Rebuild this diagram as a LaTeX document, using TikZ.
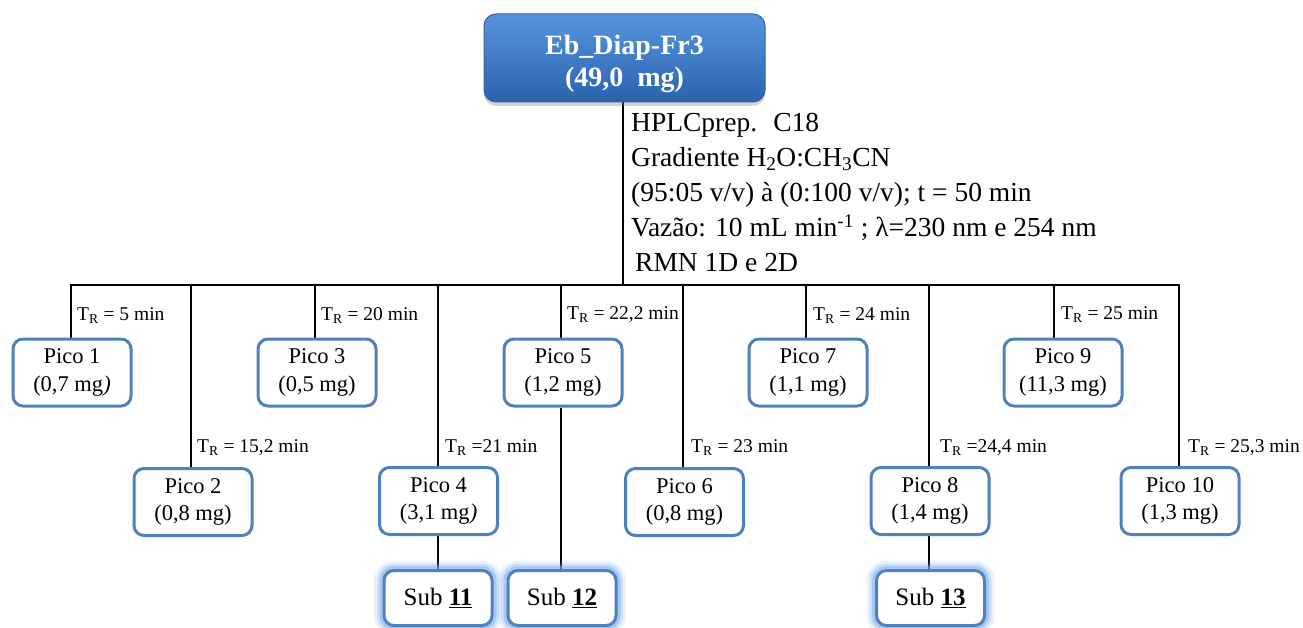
\documentclass[tikz,border=0pt]{standalone}
\usepackage{fontspec}
\setmainfont{Liberation Serif}
\usetikzlibrary{shadows,backgrounds}
\definecolor{boxblue}{RGB}{79,129,189}
\definecolor{topA}{RGB}{88,148,222}
\definecolor{topB}{RGB}{42,98,174}
\definecolor{topedge}{RGB}{52,98,165}
\definecolor{glowc}{RGB}{120,170,235}
\begin{document}
\begin{tikzpicture}[x=1pt,y=-1pt,
  pico/.style={draw=boxblue, line width=3pt, rounded corners=10pt, fill=white,
    minimum width=118pt, minimum height=67pt, align=center, inner sep=0pt,
    font=\fontsize{22.5}{27.5}\selectfont},
  subbox/.style={pico, minimum width=108pt, minimum height=55pt,
    font=\fontsize{25}{29}\selectfont,
    preaction={draw=glowc, line width=20pt, opacity=0.15},
    preaction={draw=glowc, line width=14pt, opacity=0.25},
    preaction={draw=glowc, line width=9pt, opacity=0.45}},
  trlab/.style={anchor=base west, inner sep=0pt, font=\fontsize{19.5}{22}\selectfont},
  desc/.style={anchor=base west, inner sep=0pt, font=\fontsize{27.5}{33}\selectfont},
  link/.style={line width=2pt, draw=black}
]
\useasboundingbox (0,0) rectangle (1303,628);

% top box
\node[draw=topedge, line width=1pt, rounded corners=12pt, top color=topA, bottom color=topB,
  minimum width=281pt, minimum height=88pt, inner sep=0pt,
  drop shadow={shadow xshift=0pt, shadow yshift=-4pt, opacity=0.35}]
  (top) at (624.5,58) {};
\node[text=white, align=center, inner sep=0pt, font=\bfseries\fontsize{28}{32}\selectfont]
  (toplabel) at (624.5,64) {Eb\_Diap-Fr3\\(49,0~ mg)};

% description
\node[desc] (d1) at (631,131.7) {HPLCprep.~ C18};
\node[desc] (d2) at (631,166.7) {Gradiente H\textsubscript{2}O:CH\textsubscript{3}CN};
\node[desc] (d3) at (631,201.7) {(95:05 v/v) à (0:100 v/v); t = 50 min};
\node[desc] (d4) at (631,236.7) {Vazão: 10 mL min\textsuperscript{-1} ; λ=230 nm e 254 nm};
\node[desc] (d5) at (635,272) {RMN 1D e 2D};

% peaks
\node[pico] (p1) at (72,372.5) {Pico 1\\(0,7 mg\textit{)}};
\node[pico] (p3) at (317,372.5) {Pico 3\\(0,5 mg)};
\node[pico] (p5) at (563,372.5) {Pico 5\\(1,2 mg)};
\node[pico] (p7) at (808,372.5) {Pico 7\\(1,1 mg)};
\node[pico] (p9) at (1063,372.5) {Pico 9\\(11,3 mg)};
\node[pico] (p2) at (193,502) {Pico 2\\(0,8 mg)};
\node[pico] (p4) at (438.5,501) {Pico 4\\(3,1 mg\textit{)}};
\node[pico] (p6) at (684.5,502) {Pico 6\\(0,8 mg)};
\node[pico] (p8) at (930,501) {Pico 8\\(1,4 mg)};
\node[pico] (p10) at (1180,501) {Pico 10\\(1,3 mg)};

% sub boxes
\node[subbox] (s11) at (438,598) {Sub \textbf{\underline{11}}};
\node[subbox] (s12) at (562,598) {Sub \textbf{\underline{12}}};
\node[subbox] (s13) at (930.5,598) {Sub \textbf{\underline{13}}};

% retention time labels
\node[trlab] (r1) at (77,320) {T\textsubscript{R} = 5 min};
\node[trlab] (r2) at (197,452) {T\textsubscript{R} = 15,2 min};
\node[trlab] (r3) at (321,320) {T\textsubscript{R} = 20 min};
\node[trlab] (r4) at (445,452) {T\textsubscript{R} =21 min};
\node[trlab] (r5) at (567,319) {T\textsubscript{R} = 22,2 min};
\node[trlab] (r6) at (691,452) {T\textsubscript{R} = 23 min};
\node[trlab] (r7) at (813,320) {T\textsubscript{R} = 24 min};
\node[trlab] (r8) at (940,452) {T\textsubscript{R} =24,4 min};
\node[trlab] (r9) at (1061,319) {T\textsubscript{R} = 25 min};
\node[trlab] (r10) at (1188,452) {T\textsubscript{R} = 25,3 min};

% connectors
\coordinate (hub) at (623,285);
\coordinate (t1) at (71,285);
\coordinate (t2) at (191,285);
\coordinate (t3) at (315,285);
\coordinate (t4) at (438,285);
\coordinate (t5) at (561,285);
\coordinate (t6) at (683,285);
\coordinate (t7) at (806,285);
\coordinate (t8) at (929,285);
\coordinate (t9) at (1054,285);
\coordinate (t10) at (1179,285);
\begin{pgfonlayer}{background}
\draw[link] (top.south -| hub) -- (hub);
\draw[link, line cap=rect] (t1) -- (t10);
\foreach \i in {1,...,10} {
  \draw[link] (t\i) -- (t\i |- p\i.north);
}
\draw[link] (p4.south -| t4) -- (t4 |- s11.north);
\draw[link] (p5.south -| t5) -- (t5 |- s12.north);
\draw[link] (p8.south -| t8) -- (t8 |- s13.north);
\end{pgfonlayer}
\end{tikzpicture}
\end{document}
